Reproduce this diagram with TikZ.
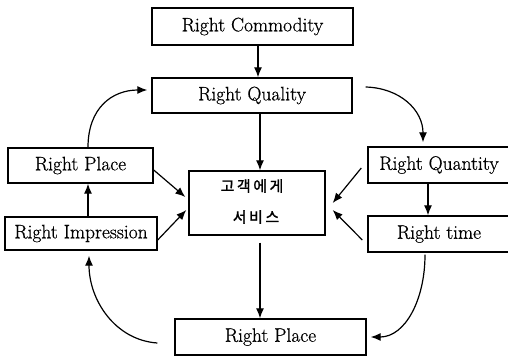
\documentclass[tikz,border=0pt]{standalone}
\usepackage{fontspec}
\setmainfont{Latin Modern Roman}[FakeBold=0.6]
\newfontfamily\kr{Noto Sans CJK KR}[FakeBold=1.5]
\usetikzlibrary{arrows.meta}
\tikzset{
  lbl/.style={font=\fontsize{19.5}{22}\selectfont},
  box/.style={draw,line width=1.4pt,inner sep=0pt,lbl},
  krl/.style={font=\kr\fontsize{15}{17}\selectfont},
  arr/.style={line width=1.2pt,-{Latex[length=10pt,width=8pt]}},
}
\begin{document}
\begin{tikzpicture}[x=1pt,y=-1pt]
\clip (0,0) rectangle (508,356);
\fill[white] (0,0) rectangle (508,356);
% boxes
\node[box,minimum width=201pt,minimum height=37pt] (comm) at (252.5,26.5) {Right Commodity};
\node[box,minimum width=200pt,minimum height=35pt] (qual) at (252,95.5) {Right Quality};
\node[box,minimum width=145pt,minimum height=35pt] (placeL) at (80.5,165.5) {Right Place};
\node[box,minimum width=152pt,minimum height=33pt] (impr) at (81,233.5) {Right Impression};
\node[box,minimum width=136pt,minimum height=64pt] (serv) at (257,203) {};
\node[krl] (servA) at (252,186) {고\,객\,에\,게};
\node[krl] (servB) at (256,217) {서\,비\,스};
\node[box,minimum width=146pt,minimum height=36pt] (quan) at (441,165) {};
\node[lbl] (quanT) at (439,165) {Right Quantity};
\node[box,minimum width=146pt,minimum height=36pt] (time) at (441,234) {};
\node[lbl] (timeT) at (439,234) {Right time};
\node[box,minimum width=191pt,minimum height=36pt] (placeB) at (270.5,337) {Right Place};
% straight connectors
\draw[arr] (comm.south -| 258,0) -- (qual.north -| 258,0);
\draw[arr] (qual.south -| 260,0) -- (serv.north -| 260,0);
\draw[arr] ([yshift=-7pt]serv.south -| 260,0) -- (placeB.north -| 260,0);
\draw[arr] (impr.north -| 88,0) -- (placeL.south -| 88,0);
\draw[arr] (quan.south -| 428,0) -- (time.north -| 428,0);
\draw[arr] ([shift={(0,4.5)}]placeL.east) -- ([shift={(-3,-6)}]serv.west);
\draw[arr] ([shift={(0,6.5)}]impr.east) -- ([shift={(-2,7)}]serv.west);
\draw[arr] ([shift={(-6,3)}]quan.west) -- ([shift={(7,0)}]serv.east);
\draw[arr] ([shift={(-5,6)}]time.west) -- ([shift={(7,7)}]serv.east);
% curved connectors
\draw[arr] ([shift={(7.5,0)}]placeL.north) .. controls (88,108) and (112,90) .. ([shift={(-4,-5.5)}]qual.west);
\draw[arr] ([shift={(13,-8.5)}]qual.east) .. controls (400,88) and (423,110) .. ([shift={(-18,-4)}]quan.north);
\draw[arr] ([shift={(-16,2)}]time.south) .. controls (425,300) and (405,337) .. ([shift={(4,0)}]placeB.east);
\draw[arr] ([shift={(-17,6)}]placeB.west) .. controls (115,340) and (89,300) .. ([shift={(8,5)}]impr.south);
\end{tikzpicture}
\end{document}
